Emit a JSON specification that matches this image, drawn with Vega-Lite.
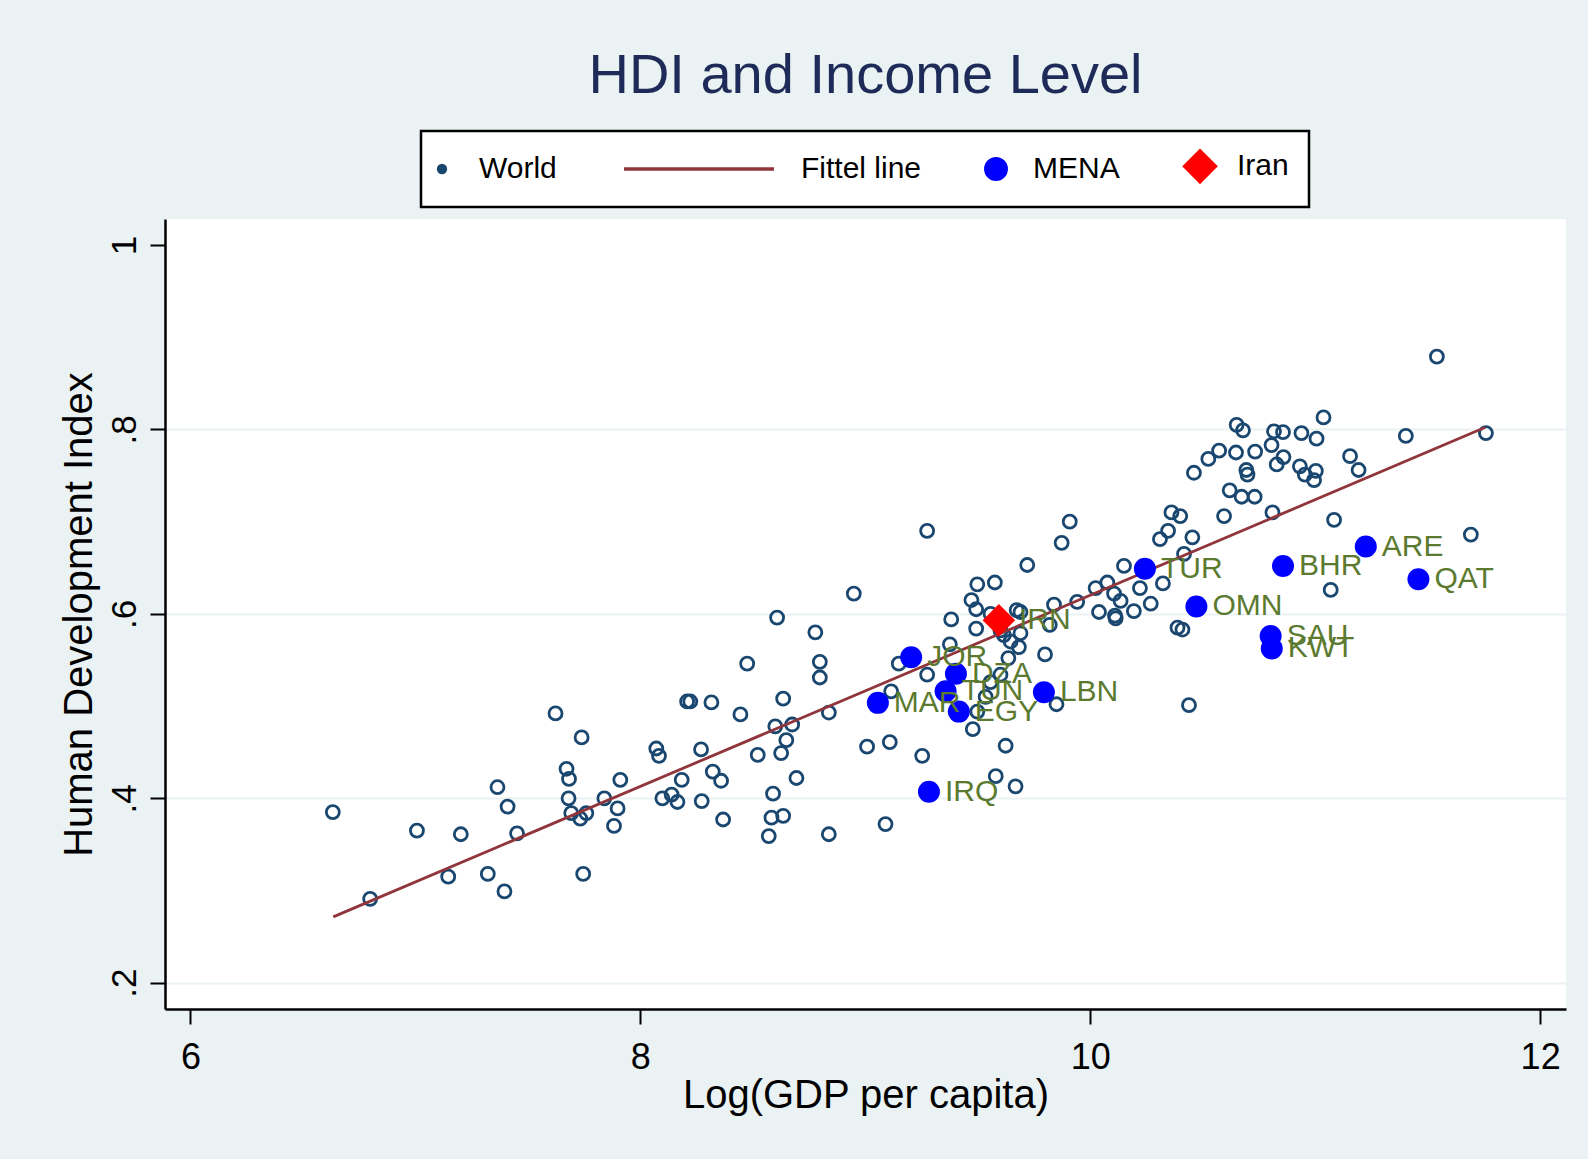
{
  "$schema": "https://vega.github.io/schema/vega-lite/v6.json",
  "width": 1401,
  "height": 790,
  "autosize": {"type": "none"},
  "padding": {"left": 165, "top": 219, "right": 22, "bottom": 150},
  "background": "#EAF2F3",
  "title": {
    "text": "HDI and Income Level",
    "font": "Liberation Sans",
    "fontSize": 56,
    "fontWeight": "normal",
    "color": "#1E2B58",
    "anchor": "middle",
    "baseline": "alphabetic",
    "offset": 35,
    "dy": 54
  },
  "datasets": {
    "world": [
      {"lgdp":6.633,"hdi":0.385,"series":"World"},{"lgdp":6.799,"hdi":0.291,"series":"World"},{"lgdp":7.007,"hdi":0.365,"series":"World"},{"lgdp":7.202,"hdi":0.361,"series":"World"},{"lgdp":7.146,"hdi":0.315,"series":"World"},{"lgdp":7.322,"hdi":0.318,"series":"World"},{"lgdp":7.396,"hdi":0.299,"series":"World"},{"lgdp":7.365,"hdi":0.412,"series":"World"},{"lgdp":7.41,"hdi":0.391,"series":"World"},{"lgdp":7.452,"hdi":0.362,"series":"World"},
      {"lgdp":7.623,"hdi":0.492,"series":"World"},{"lgdp":7.739,"hdi":0.466,"series":"World"},{"lgdp":7.672,"hdi":0.432,"series":"World"},{"lgdp":7.683,"hdi":0.421,"series":"World"},{"lgdp":7.681,"hdi":0.4,"series":"World"},{"lgdp":7.693,"hdi":0.384,"series":"World"},{"lgdp":7.733,"hdi":0.378,"series":"World"},{"lgdp":7.76,"hdi":0.384,"series":"World"},{"lgdp":7.746,"hdi":0.318,"series":"World"},{"lgdp":7.84,"hdi":0.4,"series":"World"},
      {"lgdp":7.899,"hdi":0.389,"series":"World"},{"lgdp":7.883,"hdi":0.37,"series":"World"},{"lgdp":7.911,"hdi":0.42,"series":"World"},{"lgdp":8.071,"hdi":0.454,"series":"World"},{"lgdp":8.083,"hdi":0.446,"series":"World"},{"lgdp":8.098,"hdi":0.4,"series":"World"},{"lgdp":8.139,"hdi":0.404,"series":"World"},{"lgdp":8.165,"hdi":0.396,"series":"World"},{"lgdp":8.184,"hdi":0.42,"series":"World"},{"lgdp":8.208,"hdi":0.505,"series":"World"},
      {"lgdp":8.222,"hdi":0.505,"series":"World"},{"lgdp":8.316,"hdi":0.504,"series":"World"},{"lgdp":8.445,"hdi":0.491,"series":"World"},{"lgdp":8.27,"hdi":0.453,"series":"World"},{"lgdp":8.322,"hdi":0.429,"series":"World"},{"lgdp":8.359,"hdi":0.419,"series":"World"},{"lgdp":8.273,"hdi":0.397,"series":"World"},{"lgdp":8.368,"hdi":0.377,"series":"World"},{"lgdp":8.475,"hdi":0.546,"series":"World"},{"lgdp":8.608,"hdi":0.596,"series":"World"},
      {"lgdp":8.635,"hdi":0.508,"series":"World"},{"lgdp":8.522,"hdi":0.447,"series":"World"},{"lgdp":8.6,"hdi":0.478,"series":"World"},{"lgdp":8.675,"hdi":0.48,"series":"World"},{"lgdp":8.649,"hdi":0.463,"series":"World"},{"lgdp":8.626,"hdi":0.449,"series":"World"},{"lgdp":8.59,"hdi":0.405,"series":"World"},{"lgdp":8.694,"hdi":0.422,"series":"World"},{"lgdp":8.583,"hdi":0.379,"series":"World"},{"lgdp":8.635,"hdi":0.381,"series":"World"},
      {"lgdp":8.571,"hdi":0.359,"series":"World"},{"lgdp":8.778,"hdi":0.58,"series":"World"},{"lgdp":8.798,"hdi":0.548,"series":"World"},{"lgdp":8.798,"hdi":0.531,"series":"World"},{"lgdp":8.838,"hdi":0.493,"series":"World"},{"lgdp":8.838,"hdi":0.361,"series":"World"},{"lgdp":8.949,"hdi":0.622,"series":"World"},{"lgdp":9.008,"hdi":0.456,"series":"World"},{"lgdp":9.109,"hdi":0.461,"series":"World"},{"lgdp":9.09,"hdi":0.372,"series":"World"},
      {"lgdp":9.115,"hdi":0.516,"series":"World"},{"lgdp":9.149,"hdi":0.546,"series":"World"},{"lgdp":9.253,"hdi":0.446,"series":"World"},{"lgdp":9.275,"hdi":0.534,"series":"World"},{"lgdp":9.376,"hdi":0.567,"series":"World"},{"lgdp":9.382,"hdi":0.594,"series":"World"},{"lgdp":9.472,"hdi":0.615,"series":"World"},{"lgdp":9.498,"hdi":0.632,"series":"World"},{"lgdp":9.493,"hdi":0.605,"series":"World"},{"lgdp":9.493,"hdi":0.584,"series":"World"},
      {"lgdp":9.576,"hdi":0.634,"series":"World"},{"lgdp":9.72,"hdi":0.653,"series":"World"},{"lgdp":9.673,"hdi":0.604,"series":"World"},{"lgdp":9.69,"hdi":0.602,"series":"World"},{"lgdp":9.601,"hdi":0.582,"series":"World"},{"lgdp":9.616,"hdi":0.577,"series":"World"},{"lgdp":9.69,"hdi":0.579,"series":"World"},{"lgdp":9.646,"hdi":0.57,"series":"World"},{"lgdp":9.683,"hdi":0.564,"series":"World"},{"lgdp":9.636,"hdi":0.552,"series":"World"},
      {"lgdp":9.799,"hdi":0.556,"series":"World"},{"lgdp":9.839,"hdi":0.61,"series":"World"},{"lgdp":9.82,"hdi":0.588,"series":"World"},{"lgdp":9.942,"hdi":0.613,"series":"World"},{"lgdp":10.024,"hdi":0.628,"series":"World"},{"lgdp":10.039,"hdi":0.602,"series":"World"},{"lgdp":9.601,"hdi":0.534,"series":"World"},{"lgdp":9.557,"hdi":0.526,"series":"World"},{"lgdp":9.535,"hdi":0.51,"series":"World"},{"lgdp":9.498,"hdi":0.494,"series":"World"},
      {"lgdp":9.478,"hdi":0.475,"series":"World"},{"lgdp":9.624,"hdi":0.457,"series":"World"},{"lgdp":9.58,"hdi":0.424,"series":"World"},{"lgdp":9.668,"hdi":0.413,"series":"World"},{"lgdp":9.85,"hdi":0.502,"series":"World"},{"lgdp":9.557,"hdi":0.6,"series":"World"},{"lgdp":9.275,"hdi":0.69,"series":"World"},{"lgdp":9.873,"hdi":0.677,"series":"World"},{"lgdp":9.909,"hdi":0.7,"series":"World"},{"lgdp":10.076,"hdi":0.634,"series":"World"},
      {"lgdp":10.106,"hdi":0.622,"series":"World"},{"lgdp":10.135,"hdi":0.614,"series":"World"},{"lgdp":10.11,"hdi":0.598,"series":"World"},{"lgdp":10.113,"hdi":0.595,"series":"World"},{"lgdp":10.194,"hdi":0.603,"series":"World"},{"lgdp":10.221,"hdi":0.628,"series":"World"},{"lgdp":10.269,"hdi":0.611,"series":"World"},{"lgdp":10.15,"hdi":0.652,"series":"World"},{"lgdp":10.323,"hdi":0.633,"series":"World"},{"lgdp":10.417,"hdi":0.665,"series":"World"},
      {"lgdp":10.454,"hdi":0.683,"series":"World"},{"lgdp":10.31,"hdi":0.681,"series":"World"},{"lgdp":10.346,"hdi":0.69,"series":"World"},{"lgdp":10.361,"hdi":0.71,"series":"World"},{"lgdp":10.4,"hdi":0.706,"series":"World"},{"lgdp":10.388,"hdi":0.585,"series":"World"},{"lgdp":10.41,"hdi":0.583,"series":"World"},{"lgdp":10.439,"hdi":0.501,"series":"World"},{"lgdp":10.461,"hdi":0.753,"series":"World"},{"lgdp":10.525,"hdi":0.768,"series":"World"},
      {"lgdp":10.573,"hdi":0.777,"series":"World"},{"lgdp":10.648,"hdi":0.775,"series":"World"},{"lgdp":10.651,"hdi":0.805,"series":"World"},{"lgdp":10.679,"hdi":0.799,"series":"World"},{"lgdp":10.733,"hdi":0.776,"series":"World"},{"lgdp":10.694,"hdi":0.756,"series":"World"},{"lgdp":10.699,"hdi":0.751,"series":"World"},{"lgdp":10.62,"hdi":0.734,"series":"World"},{"lgdp":10.673,"hdi":0.727,"series":"World"},{"lgdp":10.731,"hdi":0.727,"series":"World"},
      {"lgdp":10.595,"hdi":0.706,"series":"World"},{"lgdp":10.81,"hdi":0.71,"series":"World"},{"lgdp":10.806,"hdi":0.783,"series":"World"},{"lgdp":10.817,"hdi":0.798,"series":"World"},{"lgdp":10.857,"hdi":0.797,"series":"World"},{"lgdp":10.859,"hdi":0.77,"series":"World"},{"lgdp":10.829,"hdi":0.762,"series":"World"},{"lgdp":10.939,"hdi":0.796,"series":"World"},{"lgdp":11.006,"hdi":0.79,"series":"World"},{"lgdp":11.037,"hdi":0.813,"series":"World"},
      {"lgdp":10.932,"hdi":0.76,"series":"World"},{"lgdp":10.954,"hdi":0.751,"series":"World"},{"lgdp":11.003,"hdi":0.755,"series":"World"},{"lgdp":10.995,"hdi":0.745,"series":"World"},{"lgdp":11.155,"hdi":0.771,"series":"World"},{"lgdp":11.193,"hdi":0.756,"series":"World"},{"lgdp":11.084,"hdi":0.702,"series":"World"},{"lgdp":11.069,"hdi":0.626,"series":"World"},{"lgdp":11.403,"hdi":0.793,"series":"World"},{"lgdp":11.692,"hdi":0.686,"series":"World"},
      {"lgdp":11.759,"hdi":0.796,"series":"World"},{"lgdp":11.541,"hdi":0.879,"series":"World"}
    ],
    "fit": [
      {"lgdp":6.635,"hdi":0.2714,"series":"Fittel line"},
      {"lgdp":11.757,"hdi":0.8023,"series":"Fittel line"}
    ],
    "mena": [
      {"lgdp":10.243,"hdi":0.649,"series":"MENA","code":"TUR"},
      {"lgdp":10.857,"hdi":0.652,"series":"MENA","code":"BHR"},
      {"lgdp":11.225,"hdi":0.673,"series":"MENA","code":"ARE"},
      {"lgdp":11.459,"hdi":0.6375,"series":"MENA","code":"QAT"},
      {"lgdp":10.472,"hdi":0.608,"series":"MENA","code":"OMN"},
      {"lgdp":10.802,"hdi":0.576,"series":"MENA","code":"SAU"},
      {"lgdp":10.807,"hdi":0.5625,"series":"MENA","code":"KWT"},
      {"lgdp":9.204,"hdi":0.553,"series":"MENA","code":"JOR"},
      {"lgdp":9.403,"hdi":0.535,"series":"MENA","code":"DZA"},
      {"lgdp":9.357,"hdi":0.516,"series":"MENA","code":"TUN"},
      {"lgdp":9.056,"hdi":0.5035,"series":"MENA","code":"MAR"},
      {"lgdp":9.416,"hdi":0.494,"series":"MENA","code":"EGY"},
      {"lgdp":9.794,"hdi":0.515,"series":"MENA","code":"LBN"},
      {"lgdp":9.283,"hdi":0.407,"series":"MENA","code":"IRQ"}
    ],
    "iran": [
      {"lgdp":9.594,"hdi":0.593,"series":"Iran","code":"IRN"}
    ]
  },
  "encoding": {
    "x": {
      "field": "lgdp", "type": "quantitative",
      "scale": {"domain": [5.887, 12.115], "nice": false, "zero": false},
      "axis": {
        "values": [6, 8, 10, 12],
        "title": "Log(GDP per capita)",
        "grid": false,
        "labelFont": "Liberation Sans", "labelFontSize": 36, "labelColor": "black",
        "titleFont": "Liberation Sans", "titleFontSize": 40, "titleFontWeight": "normal", "titleColor": "black",
        "labelPadding": 16, "titlePadding": 0, "tickSize": 15, "tickWidth": 2, "tickColor": "black",
        "domainColor": "black", "domainWidth": 2.5, "labelFlush": false, "labelOverlap": false
      }
    },
    "y": {
      "field": "hdi", "type": "quantitative",
      "scale": {"domain": [0.1715, 1.0282], "nice": false, "zero": false},
      "axis": {
        "values": [0.2, 0.4, 0.6, 0.8, 1],
        "labelExpr": "datum.value >= 0.99 ? '1' : replace(format(datum.value, '.1f'), '0.', '.')",
        "title": "Human Development Index",
        "grid": true,
        "gridColor": {"condition": {"test": "datum.value >= 0.99", "value": "transparent"}, "value": "#EAF2F3"},
        "gridWidth": 2.2,
        "labelAngle": -90, "labelAlign": "center", "labelBaseline": "bottom",
        "labelFont": "Liberation Sans", "labelFontSize": 35, "labelColor": "black",
        "titleFont": "Liberation Sans", "titleFontSize": 40, "titleFontWeight": "normal", "titleColor": "black",
        "labelPadding": 8, "titlePadding": 8, "tickSize": 15, "tickWidth": 2, "tickColor": "black",
        "domainColor": "black", "domainWidth": 2.5, "labelFlush": false, "labelOverlap": false
      }
    },
    "color": {
      "field": "series", "type": "nominal",
      "scale": {"domain": ["World", "Fittel line", "MENA", "Iran"], "range": ["#1A476F", "#90353B", "#0000FF", "#FF0000"]},
      "legend": {
        "title": null,
        "orient": "none", "legendX": 256, "legendY": -88,
        "direction": "horizontal",
        "labelFont": "Liberation Sans", "labelFontSize": 30, "labelColor": "black", "labelLimit": 400,
        "labelOffset": 22, "symbolOffset": -14, "columnPadding": 59, "padding": 20,
        "fillColor": "white", "strokeColor": "black",
        "encode": {
          "symbols": {
            "update": {
              "shape": {"signal": "datum.value === 'Fittel line' ? 'M-1.8667,0L0.1333,0' : datum.value === 'Iran' ? 'diamond' : 'circle'"},
              "size": {"signal": "datum.value === 'Fittel line' ? 22500 : datum.value === 'World' ? 72 : datum.value === 'MENA' ? 484 : 1089"},
              "fill": {"signal": "datum.value === 'MENA' ? '#0000FF' : datum.value === 'Iran' ? '#FF0000' : 'transparent'"},
              "stroke": {"signal": "datum.value === 'World' ? '#1A476F' : datum.value === 'Fittel line' ? '#90353B' : 'transparent'"},
              "strokeWidth": {"signal": "datum.value === 'Fittel line' ? 3.5 : 1.9"},
              "opacity": {"value": 1}
            }
          },
          "legend": {"update": {"strokeWidth": {"value": 2.5}}}
        }
      }
    }
  },
  "layer": [
    {
      "data": {"name": "world"},
      "mark": {"type": "point", "shape": "circle", "filled": false, "size": 169, "strokeWidth": 2.8, "opacity": 1}
    },
    {
      "data": {"name": "fit"},
      "mark": {"type": "line", "strokeWidth": 2.8}
    },
    {
      "data": {"name": "mena"},
      "mark": {"type": "point", "shape": "circle", "filled": true, "size": 484, "opacity": 1}
    },
    {
      "data": {"name": "iran"},
      "mark": {"type": "point", "shape": "diamond", "filled": true, "size": 1060, "opacity": 1}
    },
    {
      "data": {"name": "mena"},
      "mark": {"type": "text", "align": "left", "baseline": "middle", "dx": 16, "font": "Liberation Sans", "fontSize": 30},
      "encoding": {"text": {"field": "code", "type": "nominal"}, "color": {"value": "#5B7A2F"}}
    },
    {
      "data": {"name": "iran"},
      "mark": {"type": "text", "align": "left", "baseline": "middle", "dx": 20, "font": "Liberation Sans", "fontSize": 30},
      "encoding": {"text": {"field": "code", "type": "nominal"}, "color": {"value": "#5B7A2F"}}
    }
  ],
  "config": {
    "view": {"stroke": null, "fill": "white"}
  }
}
